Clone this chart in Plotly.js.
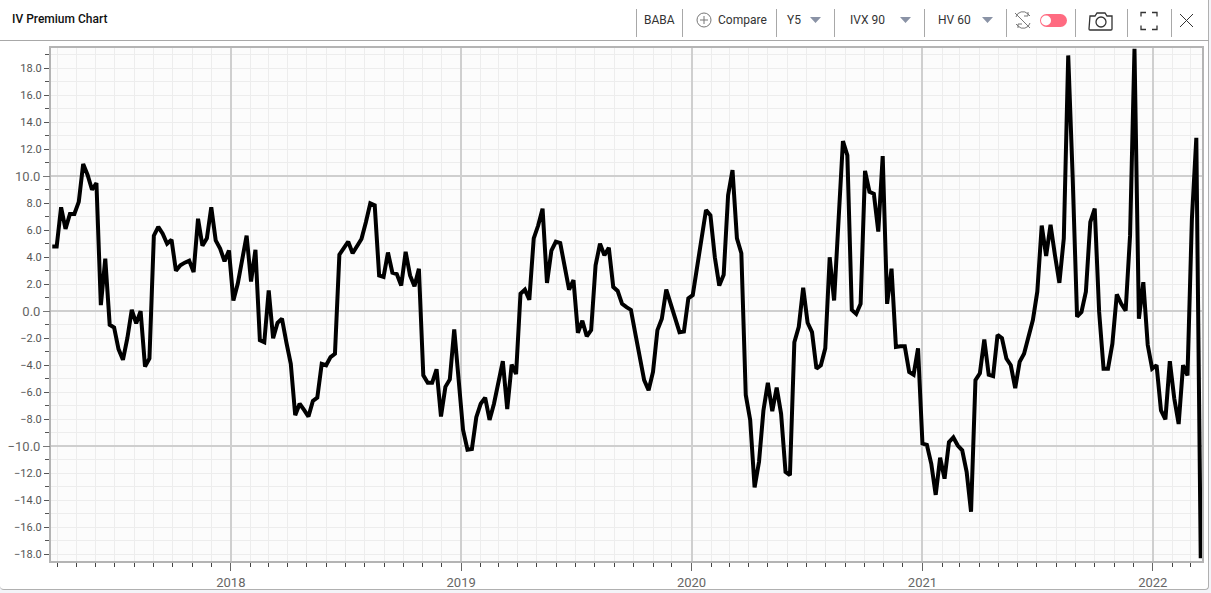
<!DOCTYPE html>
<html>
<head>
<meta charset="utf-8">
<script src="https://cdn.plot.ly/plotly-3.0.1.min.js"></script>
<style>
html,body{margin:0;padding:0;width:1211px;height:593px;overflow:hidden;background:#f3f4f8;font-family:Roboto,sans-serif}
#card{position:absolute;left:0;top:0;width:1208px;height:589px;background:#fff;border-right:1px solid #b0b0b0;border-bottom:1px solid #b0b0b0;border-radius:0 0 4px 4px}
#rule{position:absolute;left:0;top:40px;width:1209px;height:1px;background:#a8a8a8}
#chart{position:absolute;left:0;top:0;width:1211px;height:593px}
#bar{position:absolute;left:0;top:0;width:1211px;height:40px;pointer-events:none}
.t{position:absolute;top:12px;font-size:12px;line-height:16px;color:#333;white-space:nowrap}
.s{position:absolute;top:9px;width:1px;height:28px;background:#a8a8a8}
svg.i{position:absolute;left:0;top:0}
</style>
</head>
<body>
<div id="card"></div>
<div id="chart"></div>
<div id="rule"></div>
<div id="bar">
  <div class="s" style="left:636px"></div><div class="s" style="left:682px"></div>
  <div class="s" style="left:776px"></div><div class="s" style="left:834px"></div>
  <div class="s" style="left:924px"></div><div class="s" style="left:1006px"></div>
  <div class="s" style="left:1075px"></div><div class="s" style="left:1127px"></div>
  <div class="s" style="left:1171px"></div>
  <div class="t" style="left:644px">BABA</div>
  <div class="t" style="left:718px">Compare</div>
  <div class="t" style="left:787px">Y5</div>
  <div class="t" style="left:850px">IVX 90</div>
  <div class="t" style="left:938px">HV 60</div>
  <svg class="i" width="1211" height="40" fill="none">
    <circle cx="704" cy="20" r="7" stroke="#777" stroke-width="1"/>
    <path d="M700 20h8M704 16v8" stroke="#777"/>
    <path d="M810 17h11l-5.500 6z M900 17h11l-5.500 6z M982 17h11l-5.500 6z" fill="#8a93a6"/>
    <path d="M1016 17a7 7 0 0 1 12-3l2 2M1030 23a7 7 0 0 1-12 3l-2-2M1028 12v4h-4M1018 28v-4h4M1015 13l15 15" stroke="#777" stroke-width="1"/>
    <rect x="1040" y="14" width="27" height="13" rx="6.500" fill="#ff6b81"/>
    <circle cx="1046" cy="20.500" r="5" fill="#fff"/>
    <path d="M1090 16h5l2-3h8l2 3h5v13a1 1 0 0 1-1 1h-21a1 1 0 0 1-1-1z" stroke="#333" stroke-width="1.300"/>
    <circle cx="1101" cy="22" r="5" stroke="#333" stroke-width="1.300"/>
    <path d="M1141 18v-4h5M1152 14h5v4M1157 27v4h-5M1146 31h-5v-4" stroke="#333" stroke-width="1.300" transform="translate(0,-1.500)"/>
    <path d="M1180 14l13 13M1193 14l-13 13" stroke="#333" stroke-width="1"/>
  </svg>
</div>
<script>
var startDate = '2017-03-24';
var premium = [
4.8,4.8,7.7,6.1,7.2,7.2,8.1,10.9,10.1,9.0,9.5,0.45,3.9,-1.0,-1.2,-2.8,-3.6,-2.0,0.1,-0.9,
0.0,-4.1,-3.5,5.6,6.25,5.75,5.0,5.3,3.0,3.4,3.6,3.75,2.9,6.85,4.85,5.4,7.7,5.25,4.65,3.7,
4.5,0.8,2.05,3.9,5.6,2.2,4.55,-2.15,-2.3,1.55,-2.0,-0.85,-0.55,-2.3,-3.9,-7.7,-6.85,-7.3,-7.8,-6.65,
-6.4,-3.9,-4.0,-3.4,-3.15,4.2,4.65,5.15,4.3,4.9,5.35,6.6,8.0,7.85,2.65,2.55,4.35,2.85,2.75,1.9,
4.4,2.65,1.85,3.15,-4.75,-5.3,-5.3,-4.3,-7.8,-5.6,-5.05,-1.35,-5.1,-8.8,-10.25,-10.2,-7.85,-6.85,-6.4,-8.05,
-6.85,-5.25,-3.7,-7.25,-3.95,-4.65,1.3,1.6,0.85,5.4,6.35,7.6,2.1,4.5,5.15,5.05,3.15,1.6,2.3,-1.6,
-0.7,-1.85,-1.4,3.4,5.0,4.15,4.7,1.8,1.5,0.55,0.3,0.1,-1.65,-3.25,-5.1,-5.85,-4.5,-1.4,-0.55,1.6,
0.55,-0.35,-1.55,-1.5,0.95,1.2,3.3,5.25,7.5,7.1,4.0,1.9,2.7,8.6,10.45,5.4,4.3,-6.2,-8.05,-13.05,
-11.15,-7.35,-5.3,-7.4,-5.65,-7.6,-11.9,-12.15,-2.3,-1.15,1.75,-0.85,-1.55,-4.25,-4.0,-2.75,4.0,0.8,6.75,12.6,
11.55,0.1,-0.2,0.55,10.4,8.85,8.7,5.9,11.5,0.55,3.15,-2.65,-2.6,-2.6,-4.5,-4.7,-2.75,-9.8,-9.9,-11.3,
-13.6,-10.85,-12.4,-9.7,-9.35,-9.95,-10.3,-11.9,-14.85,-5.1,-4.6,-2.1,-4.7,-4.8,-1.75,-2.0,-3.5,-4.0,-5.7,-3.75,
-3.15,-1.8,-0.65,1.45,6.35,4.1,6.4,4.15,2.1,5.4,18.95,10.0,-0.4,-0.05,1.45,6.6,7.6,-0.05,-4.25,-4.25,
-2.4,1.25,0.55,0.05,5.6,19.45,-0.55,2.15,-2.5,-4.25,-4.0,-7.35,-8.0,-3.7,-6.45,-8.35,-4.0,-4.75,6.85,12.85,
-18.3];
var smallTicks = [-18,-16,-14,-12,-8,-6,-4,-2,2,4,6,8,12,14,16,18];
var bigTicks = [-10,0,10];
var xRange = ['2017-03-22','2022-03-20'];
var yRange = [-18.5,19.5];

var dates = premium.map(function(_, i){
  return new Date(Date.parse(startDate + 'T00:00:00Z') + i*7*86400000).toISOString().slice(0,10);
});
var fontFam = 'Roboto, sans-serif';

var traces = [
  {x:[dates[0]], y:[0], yaxis:'y2', mode:'lines', hoverinfo:'skip', showlegend:false},
  {x:dates, y:premium, mode:'lines', line:{color:'#000000', width:4, shape:'linear'},
   showlegend:false, name:'IV Premium'}
];
var layout = {
  width:1211, height:593,
  margin:{l:51, r:9, t:48, b:32, pad:0},
  paper_bgcolor:'rgba(0,0,0,0)', plot_bgcolor:'#fcfcfc',
  title:{text:'IV Premium Chart', x:12/1211, xanchor:'left', y:1-19/593, yanchor:'middle',
         font:{family:fontFam, size:12, color:'#111', weight:500}},
  font:{family:fontFam},
  xaxis:{type:'date', range:xRange, tick0:'2018-01-01', dtick:'M12', tickformat:'%Y',
    showgrid:true, gridcolor:'#cfcfcf', gridwidth:2,
    ticks:'outside', ticklen:8, tickwidth:1, tickcolor:'#666',
    tickfont:{size:13, color:'#666', family:fontFam},
    showline:true, mirror:true, linecolor:'#b4b4b4', linewidth:2, zeroline:false,
    minor:{dtick:'M1', tick0:'2018-01-01', showgrid:true, gridcolor:'#ededed', gridwidth:1,
           ticks:'outside', ticklen:4, tickcolor:'#444', tickwidth:1}},
  yaxis:{range:yRange, tickmode:'array', tickvals:smallTicks, tickformat:'.1f',
    showgrid:false,
    ticks:'outside', ticklen:5, tickwidth:1, tickcolor:'#555',
    tickfont:{size:11, color:'#555', family:fontFam},
    showline:true, mirror:true, linecolor:'#b4b4b4', linewidth:2, zeroline:false,
    minor:{dtick:1, tick0:-19, showgrid:true, gridcolor:'#ededed', gridwidth:1,
           ticks:'outside', ticklen:4, tickcolor:'#555', tickwidth:1}},
  yaxis2:{overlaying:'y', side:'left', range:yRange, tickmode:'array', tickvals:bigTicks, tickformat:'.1f',
    showgrid:true, gridcolor:'#cfcfcf', gridwidth:2, zeroline:false, showline:false,
    ticks:'outside', ticklen:7, tickwidth:1, tickcolor:'#777',
    tickfont:{size:13, color:'#666', family:fontFam}}
};
Plotly.newPlot('chart', traces, layout, {displayModeBar:false, responsive:false, staticPlot:true});
</script>
</body>
</html>
